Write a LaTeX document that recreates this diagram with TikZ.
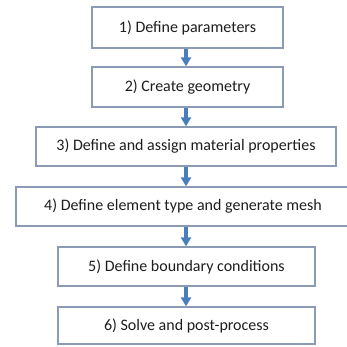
\documentclass[tikz,border=0pt]{standalone}
\usepackage{fontspec}
\setmainfont{Carlito}
\usetikzlibrary{arrows.meta}
\definecolor{boxline}{RGB}{140,155,180}
\definecolor{txt}{RGB}{30,30,30}
\definecolor{arr}{RGB}{74,126,187}
\begin{document}
\begin{tikzpicture}[x=1pt,y=-1pt,
  stepbox/.style={draw=boxline, line width=1.3pt, fill=white, rectangle, inner sep=0pt,
    text=txt, font=\fontsize{16}{18}\selectfont, anchor=center},
  flow/.style={draw=arr, line width=4.5pt, -{Triangle[width=10pt,length=9pt]}, shorten <=0.6pt}]
\useasboundingbox (0,0) rectangle (347,347);
\clip (0,0) rectangle (347,347);
\node[stepbox, minimum width=191pt, minimum height=41pt] (b1) at (187.5,27.5) {1) Define parameters};
\node[stepbox, minimum width=191pt, minimum height=40pt] (b2) at (187.5,87) {2) Create geometry};
\node[stepbox, minimum width=300pt, minimum height=39pt] (b3) at (186,146.5) {3) Define and assign material properties};
\node[stepbox, minimum width=334pt, minimum height=39pt] (b4) at (183,206.5) {4) Define element type and generate mesh};
\node[stepbox, minimum width=257pt, minimum height=39pt] (b5) at (186.5,266.5) {5) Define boundary conditions};
\node[stepbox, minimum width=257pt, minimum height=37pt] (b6) at (186.5,325.5) {6) Solve and post-process};
\coordinate (a1s) at (b1.south -| 186,0); \coordinate (a1e) at (b2.north -| 186,0);
\coordinate (a2s) at (b2.south -| 186,0); \coordinate (a2e) at (b3.north -| 186,0);
\coordinate (a3s) at (b3.south -| 186,0); \coordinate (a3e) at (b4.north -| 186,0);
\coordinate (a4s) at (b4.south -| 186,0); \coordinate (a4e) at (b5.north -| 186,0);
\coordinate (a5s) at (b5.south -| 186,0); \coordinate (a5e) at (b6.north -| 186,0);
\draw[flow] (a1s) -- (a1e);
\draw[flow] (a2s) -- (a2e);
\draw[flow] (a3s) -- (a3e);
\draw[flow] (a4s) -- (a4e);
\draw[flow] (a5s) -- (a5e);
\end{tikzpicture}
\end{document}
